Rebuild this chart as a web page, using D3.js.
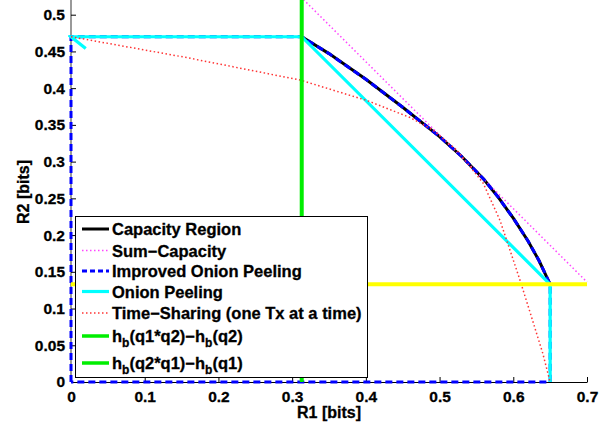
<!DOCTYPE html>
<html>
<head>
<meta charset="utf-8">
<script src="https://cdn.jsdelivr.net/npm/d3@7"></script>
<style>
  body { margin: 0; background: #fff; }
  text { font-family: "Liberation Sans", Arial, Helvetica, sans-serif; font-weight: 700; stroke: #000; stroke-width: 0.3; }
</style>
</head>
<body>
<div id="chart"></div>
<script>
// axis ticks
const xTicks = [0, 0.1, 0.2, 0.3, 0.4, 0.5, 0.6, 0.7];
const xTickLabels = ["0", "0.1", "0.2", "0.3", "0.4", "0.5", "0.6", "0.7"];
const yTicks = [0, 0.05, 0.1, 0.15, 0.2, 0.25, 0.3, 0.35, 0.4, 0.45, 0.5];
const yTickLabels = ["0", "0.05", "0.1", "0.15", "0.2", "0.25", "0.3", "0.35", "0.4", "0.45", "0.5"];

// capacity region boundary (curved part)
const capR1 = [0.313, 0.35, 0.40, 0.45, 0.50, 0.53, 0.56, 0.58, 0.60, 0.62, 0.635, 0.65];
const capR2 = [0.470, 0.447, 0.412, 0.374, 0.334, 0.307, 0.276, 0.251, 0.223, 0.192, 0.165, 0.133];

// sum capacity line
const sumR1 = [0.3, 0.7];
const sumR2 = [0.536, 0.136];

// improved onion peeling (axes + horizontal + curve + vertical)
const impR1 = [0, 0, 0.313].concat(capR1.slice(1), [0.65, 0]);
const impR2 = [0, 0.47, 0.47].concat(capR2.slice(1), [0, 0]);

// onion peeling
const onionR1 = [0.02, 0, 0.313, 0.65, 0.65];
const onionR2 = [0.454, 0.47, 0.47, 0.133, 0];

// time sharing (one Tx at a time)
const tsR1 = [0, 0.155, 0.311, 0.402, 0.46, 0.491, 0.524, 0.559, 0.582, 0.609, 0.623, 0.64, 0.65];
const tsR2 = [0.47, 0.442, 0.411, 0.383, 0.36, 0.343, 0.315, 0.271, 0.22, 0.139, 0.094, 0.039, 0];

// h_b(q1*q2)-h_b(q2) : vertical line
const g1R1 = [0.313, 0.313];
const g1R2 = [0, 0.6];

// horizontal line
const g2R1 = [0, 0.7];
const g2R2 = [0.133, 0.133];

const width = 615, height = 427;
const svg = d3.select("#chart").append("svg")
    .attr("width", width)
    .attr("height", height);

const x = d3.scaleLinear().domain([0, 0.7]).range([71, 587]);
const y = d3.scaleLinear().domain([0, 0.52]).range([382, 0]);

const zip = (a, b) => a.map((v, i) => [v, b[i]]);
const line = d3.line().x(d => x(d[0])).y(d => y(d[1]));

const series = [
    { r1: capR1, r2: capR2, color: "#000", w: 3, dash: null },
    { r1: sumR1, r2: sumR2, color: "#ff44ff", w: 1.5, dash: "1.5,2.5" },
    { r1: impR1, r2: impR2, color: "#0000ff", w: 3, dash: "7,4" },
    { r1: onionR1, r2: onionR2, color: "#00ffff", w: 3.2, dash: null },
    { r1: tsR1, r2: tsR2, color: "#ff3333", w: 1.5, dash: "1.5,2.5" },
    { r1: g1R1, r2: g1R2, color: "#00ee00", w: 4, dash: null },
    { r1: g2R1, r2: g2R2, color: "#ffff00", w: 4, dash: null }
];

// axes (drawn first, data lines sit on top)
const xAxis = svg.append("g")
    .attr("transform", `translate(0, ${y(0)})`)
    .call(d3.axisBottom(x).tickValues(xTicks)
        .tickFormat((d, i) => xTickLabels[i])
        .tickSizeInner(-5).tickSizeOuter(0).tickPadding(9));

const yAxis = svg.append("g")
    .attr("transform", `translate(${x(0)}, 0)`)
    .call(d3.axisLeft(y).tickValues(yTicks)
        .tickFormat((d, i) => yTickLabels[i])
        .tickSizeInner(-5).tickSizeOuter(0).tickPadding(6));

[xAxis, yAxis].forEach(a => {
    a.attr("font-family", null).attr("font-size", null);
    a.selectAll("text").attr("font-size", 15.5).attr("fill", "#000");
    a.selectAll("line").attr("stroke", "#000");
});
xAxis.select(".domain").attr("stroke", "#000");
yAxis.select(".domain").attr("stroke", "#777").attr("stroke-width", 1.5)
    .attr("d", `M0,${y(0)}V0`);

svg.append("defs").append("clipPath").attr("id", "plotClip")
    .append("rect").attr("x", x(0) - 3).attr("y", 0)
    .attr("width", x(0.7) - x(0) + 6).attr("height", y(0) + 3);

const plot = svg.append("g").attr("clip-path", "url(#plotClip)");

plot.selectAll("path.series")
    .data(series)
    .enter()
    .append("path")
    .attr("class", "series")
    .attr("fill", "none")
    .attr("stroke", d => d.color)
    .attr("stroke-width", d => d.w)
    .attr("stroke-dasharray", d => d.dash)
    .attr("d", d => line(zip(d.r1, d.r2)));

svg.append("text")
    .attr("x", 329)
    .attr("y", 418)
    .attr("text-anchor", "middle")
    .attr("font-size", 16)
    .text("R1 [bits]");

svg.append("text")
    .attr("transform", "translate(29, 192) rotate(-90)")
    .attr("text-anchor", "middle")
    .attr("font-size", 16)
    .text("R2 [bits]");

// legend
const legendItems = [
    { label: "Capacity Region", s: 0 },
    { label: "Sum\u2212Capacity", s: 1 },
    { label: "Improved Onion Peeling", s: 2 },
    { label: "Onion Peeling", s: 3 },
    { label: "Time\u2212Sharing (one Tx at a time)", s: 4 },
    { label: "h|b|(q1*q2)\u2212h|b|(q2)", s: 5 },
    { label: "h|b|(q2*q1)\u2212h|b|(q1)", s: 5 }
];
const rowY = [229, 250.5, 271, 291.5, 313, 336, 363];

const legend = svg.append("g");
legend.append("rect")
    .attr("x", 75.5).attr("y", 216.5)
    .attr("width", 292).attr("height", 161)
    .attr("fill", "#fff").attr("stroke", "#000").attr("stroke-width", 1);

const rows = legend.selectAll("g.row")
    .data(legendItems)
    .enter()
    .append("g")
    .attr("class", "row")
    .attr("transform", (d, i) => `translate(0, ${rowY[i]})`);

rows.append("line")
    .attr("x1", 82).attr("x2", 109)
    .attr("stroke", d => series[d.s].color)
    .attr("stroke-width", d => Math.min(series[d.s].w, 3.5))
    .attr("stroke-dasharray", d => d.s === 2 ? "5,3" : series[d.s].dash);

rows.append("text")
    .attr("x", 112)
    .attr("y", 6)
    .attr("font-size", 16.5)
    .each(function (d) {
        const parts = d.label.split("|");
        const t = d3.select(this);
        parts.forEach((p, k) => {
            const ts = t.append("tspan").text(p);
            if (k % 2 === 1) ts.attr("font-size", 12).attr("dy", 5);
            else if (k > 0) ts.attr("dy", -5);
        });
    });
</script>
</body>
</html>
